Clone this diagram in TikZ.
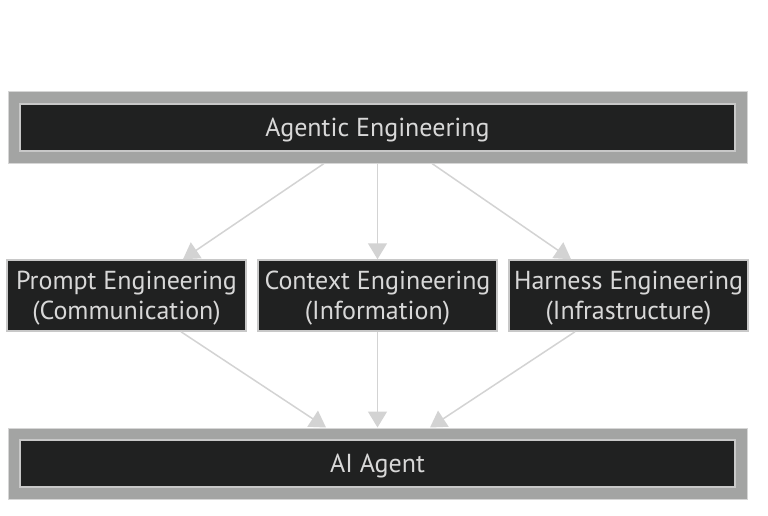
\documentclass[tikz,border=0pt]{standalone}
\usepackage{fontspec}
\setmainfont{PT Sans}
\usetikzlibrary{arrows.meta,calc}
\definecolor{outergray}{HTML}{A3A4A3}
\definecolor{outerline}{HTML}{D6D6D6}
\definecolor{innerfill}{HTML}{202121}
\definecolor{innerline}{HTML}{C8C8C8}
\definecolor{txt}{HTML}{D8D8D8}
\definecolor{edge}{HTML}{D3D3D3}
\tikzset{
  outerbox/.style={draw=outerline, fill=outergray, line width=1pt, minimum width=739pt, minimum height=71pt, inner sep=0pt},
  innerbox/.style={draw=innerline, fill=innerfill, line width=1.5pt, minimum width=715pt, minimum height=47pt, inner sep=0pt, text=txt, font=\fontsize{26}{30}\selectfont, text height=22.5pt, text depth=5pt},
  midbox/.style={draw=innerline, fill=innerfill, line width=1.5pt, minimum width=239pt, minimum height=71pt, inner sep=0pt},
  midtext/.style={inner sep=0pt, text=txt, align=center, font=\fontsize{26}{30}\selectfont},
  conn/.style={draw=edge, line width=1.5pt, -{Triangle[length=16pt,width=19pt]}},
}
\begin{document}
\begin{tikzpicture}[x=1pt,y=-1pt]
\useasboundingbox (0,0) rectangle (768,516);
\node[outerbox] (topo) at (377.5,127.5) {};
\node[innerbox] (top) at (377.5,127.5) {Agentic Engineering};
\node[midbox] (p) at (126.5,295.5) {};
\node[midbox] (c) at (377.5,295.5) {};
\node[midbox] (h) at (628.5,295.5) {};
\node[midtext] (pt) at ([yshift=-2.5pt]p.center) {Prompt Engineering\\(Communication)};
\node[midtext] (ct) at ([yshift=-2.5pt]c.center) {Context Engineering\\(Information)};
\node[midtext] (ht) at ([yshift=-2.5pt]h.center) {Harness Engineering\\(Infrastructure)};
\node[outerbox] (boto) at (377.5,463.5) {};
\node[innerbox, text height=23pt] (bot) at (377.5,463.5) {AI Agent};
\draw[conn] ([xshift=-53.5pt]topo.south) -- ([xshift=56.5pt]p.north);
\draw[conn] (topo.south) -- (c.north);
\draw[conn] ([xshift=54.5pt]topo.south) -- ([xshift=-57.5pt]h.north);
\draw[conn] ([xshift=54.5pt]p.south) -- ([xshift=-51.5pt]boto.north);
\draw[conn] (c.south) -- (boto.north);
\draw[conn] ([xshift=-53.5pt]h.south) -- ([xshift=52.5pt]boto.north);
\end{tikzpicture}
\end{document}
